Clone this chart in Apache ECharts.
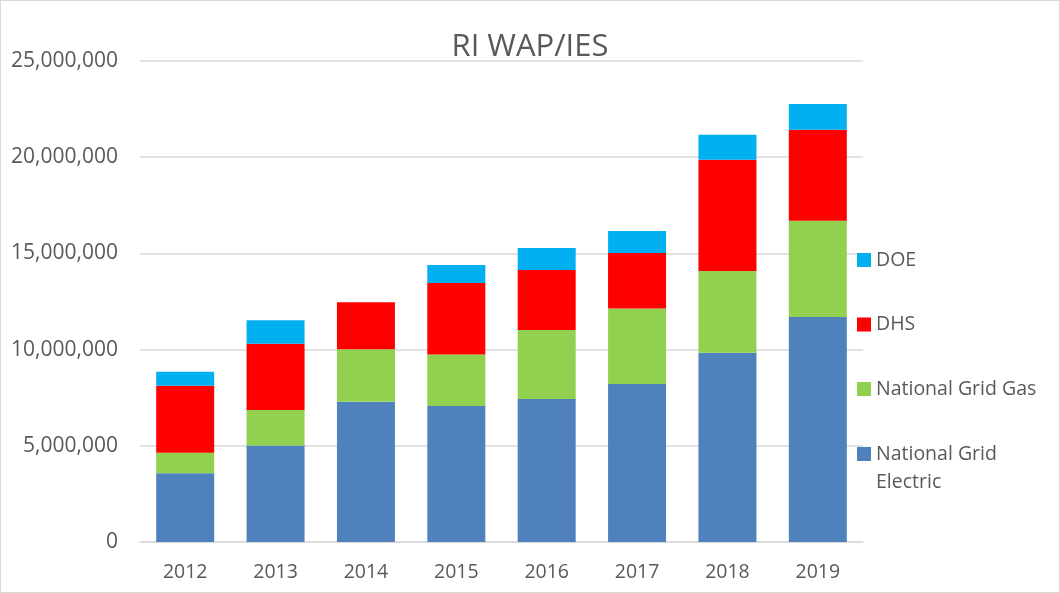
<!DOCTYPE html>
<html>
<head>
<meta charset="utf-8">
<script src="https://cdn.jsdelivr.net/npm/echarts@6/dist/echarts.min.js"></script>
<style>
  html, body { margin: 0; padding: 0; background: #fff; }
  #chart { width: 1058px; height: 591px; border: 1px solid #d9d9d9; }
</style>
</head>
<body>
<div id="chart"></div>
<script>
// values
var years = ['2012', '2013', '2014', '2015', '2016', '2017', '2018', '2019']
var ngElectric = [3570000, 5010000, 7290000, 7070000, 7430000, 8210000, 9840000, 11690000]
var ngGas = [1070000, 1850000, 2730000, 2680000, 3590000, 3920000, 4250000, 5010000]
var dhs = [3480000, 3450000, 2440000, 3710000, 3120000, 2890000, 5780000, 4730000]
var doe = [730000, 1210000, 0, 940000, 1140000, 1140000, 1300000, 1340000]

var txt = '#595959'
var font = 'Open Sans'

var chart = echarts.init(document.getElementById('chart'))

function bar(name, data, color) {
  return {
    name: name,
    type: 'bar',
    stack: 'total',
    data: data,
    barWidth: 58,
    itemStyle: { color: color },
    emphasis: { disabled: true }
  }
}

var option = {
  animation: false,
  title: {
    text: 'RI WAP/IES',
    left: 'center',
    top: 26,
    textStyle: { color: txt, fontFamily: font, fontSize: 31, fontWeight: 'normal' }
  },
  grid: { left: 139, right: 196, top: 60, bottom: 50 },
  legend: [
    {
      orient: 'vertical',
      left: 851,
      top: 240,
      itemWidth: 14,
      itemHeight: 14,
      itemGap: 36.5,
      icon: 'rect',
      data: ['DOE', 'DHS', 'National Grid Gas'],
      textStyle: { color: txt, fontFamily: font, fontSize: 19.5, lineHeight: 28 }
    },
    {
      // first line kept level with the icon, like the original
      orient: 'vertical',
      left: 851,
      top: 406,
      itemWidth: 14,
      itemHeight: 14,
      icon: 'rect',
      data: ['National Grid Electric'],
      formatter: function() { return '{p| }\n{t|National Grid}\n{t|Electric}' },
      textStyle: {
        color: txt, fontFamily: font, fontSize: 19.5, lineHeight: 28,
        rich: {
          p: { fontSize: 19.5, lineHeight: 28 },
          t: { color: txt, fontFamily: font, fontSize: 19.5, lineHeight: 28 }
        }
      }
    }
  ],
  xAxis: {
    type: 'category',
    data: years,
    axisTick: { show: false },
    axisLine: { lineStyle: { color: '#d9d9d9', width: 1.5 } },
    axisLabel: { color: txt, fontFamily: font, fontSize: 19.5, margin: 20 }
  },
  yAxis: {
    type: 'value',
    min: 0,
    max: 25000000,
    interval: 5000000,
    axisLine: { show: false },
    axisTick: { show: false },
    splitLine: { lineStyle: { color: '#d9d9d9', width: 1.5 } },
    axisLabel: {
      color: txt, fontFamily: font, fontSize: 21, margin: 22,
      formatter: function(v) { return v.toLocaleString('en-US') }
    }
  },
  series: [
    bar('National Grid Electric', ngElectric, '#4f81bd'),
    bar('National Grid Gas', ngGas, '#92d050'),
    bar('DHS', dhs, '#ff0000'),
    bar('DOE', doe, '#00b0f0')
  ]
}

chart.setOption(option)
</script>
</body>
</html>
